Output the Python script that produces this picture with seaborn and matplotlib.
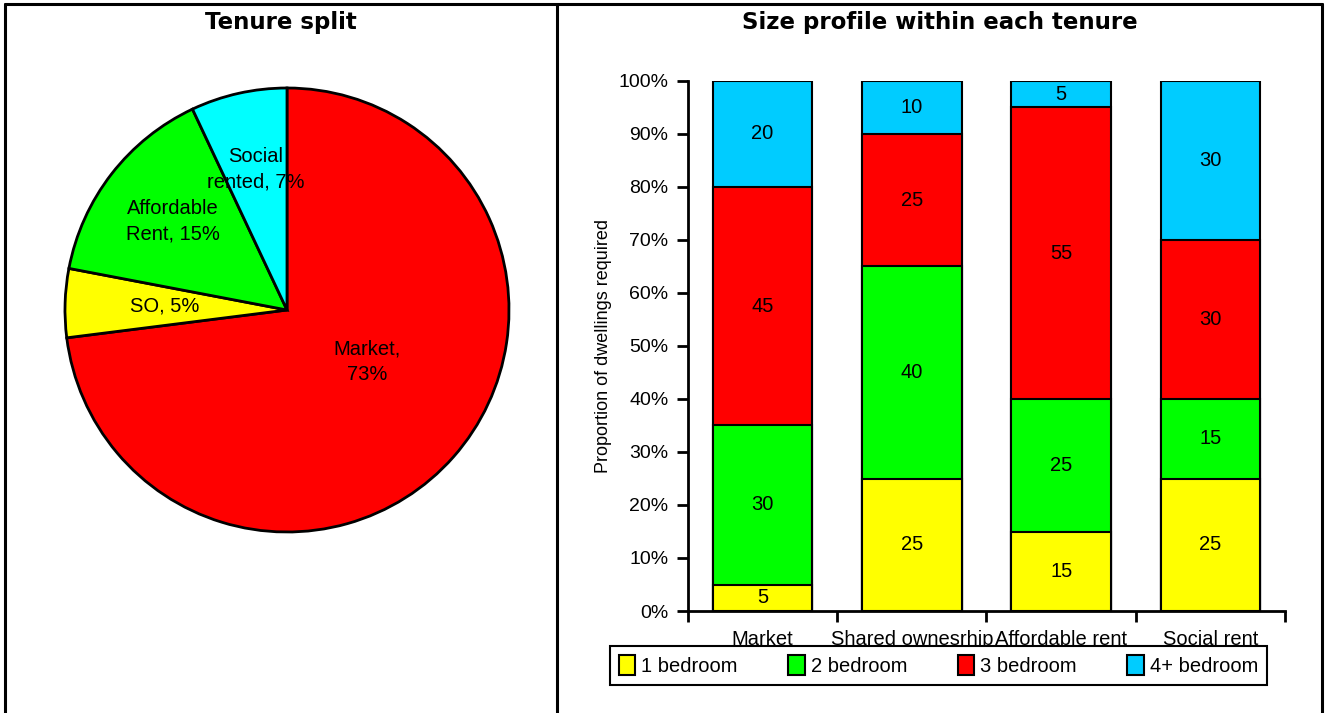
import numpy as np
import seaborn as sns
import matplotlib.pyplot as plt
from matplotlib.lines import Line2D
from matplotlib.patches import Patch

# left panel: tenure split
pie_labels = ["Market,\n", "SO, ", "Affordable\nRent, ", "Social\nrented, "]
pie_share = [73, 5, 15, 7]
pie_colors = ["#FF0000", "#FFFF00", "#00FF00", "#00FFFF"]

# right panel: size profile per tenure
tenures = ["Market", "Shared ownesrhip", "Affordable rent", "Social rent"]
sizes = ["1 bedroom", "2 bedroom", "3 bedroom", "4+ bedroom"]
one_bed = [5, 25, 15, 25]
two_bed = [30, 40, 25, 15]
three_bed = [45, 25, 55, 30]
four_bed = [20, 10, 5, 30]
bar_colors = ["#FFFF00", "#00FF00", "#FF0000", "#00CCFF"]

sns.set_style("ticks")
plt.rcParams["font.family"] = ["Liberation Sans", "DejaVu Sans"]
for key in ["text.color", "axes.labelcolor", "xtick.color", "ytick.color", "axes.edgecolor"]:
    plt.rcParams[key] = "black"

W, H = 1327, 713
fig = plt.figure(figsize=(W / 100, H / 100), dpi=100)


def fx(px):
    return px / W


def fy(py):
    return 1 - py / H


# table-like frame around the two panels
for x0, y0, x1, y1 in [(5, 4, 1322, 4), (5, 4, 5, 713), (1322, 4, 1322, 713), (557, 4, 557, 713)]:
    fig.add_artist(Line2D([fx(x0), fx(x1)], [fy(y0), fy(y1)], color="black", lw=2.2))

fig.text(fx(281), fy(22), "Tenure split", ha="center", va="center",
         fontsize=16.5, fontweight="bold", family="DejaVu Sans")
fig.text(fx(940), fy(22), "Size profile within each tenure", ha="center", va="center",
         fontsize=16.5, fontweight="bold", family="DejaVu Sans")

# ---- pie
ax1 = fig.add_axes([fx(65), fy(532), 444 / W, 444 / H])
wedges, _ = ax1.pie(pie_share, colors=pie_colors, startangle=90, counterclock=False,
                    wedgeprops=dict(edgecolor="black", linewidth=2, clip_on=False))
ax1.set_xlim(-1, 1)
ax1.set_ylim(-1, 1)
label_r = [0.43, 0.55, 0.65, 0.65]
label_shift = [8.7, 0, 0, 0]
for w, lab, v, r, s in zip(wedges, pie_labels, pie_share, label_r, label_shift):
    ang = np.deg2rad((w.theta1 + w.theta2) / 2 + s)
    ax1.text(r * np.cos(ang), r * np.sin(ang), f"{lab}{v}%", ha="center", va="center",
             fontsize=14.5, linespacing=1.45)

# ---- stacked bars (layered cumulative bars)
ax2 = fig.add_axes([fx(688), fy(611), (1285 - 688) / W, (611 - 81) / H])
stack = np.array([one_bed, two_bed, three_bed, four_bed])
cums = np.cumsum(stack, axis=0)
for k in reversed(range(len(sizes))):
    sns.barplot(x=tenures, y=cums[k], order=tenures, color=bar_colors[k], saturation=1,
                width=0.665, edgecolor="black", linewidth=1.5, ax=ax2)
for k in range(len(sizes)):
    for i, v in enumerate(stack[k]):
        ax2.text(i, cums[k][i] - v / 2, str(v), ha="center", va="center", fontsize=14.5)

ax2.set_xlim(-0.5, 3.5)
ax2.set_ylim(0, 100)
ax2.set_yticks(range(0, 101, 10))
ax2.set_yticklabels([f"{t}%" for t in range(0, 101, 10)], fontsize=14)
ax2.set_xticks(range(len(tenures)))
ax2.set_xticklabels(tenures, fontsize=14.5)
ax2.set_xticks(np.arange(-0.5, 4, 1), minor=True)
ax2.tick_params(axis="x", which="major", length=0, pad=14)
ax2.tick_params(axis="x", which="minor", length=8, width=2, direction="out")
ax2.tick_params(axis="y", length=8, width=2, direction="out", pad=6)
ax2.set_ylabel("Proportion of dwellings required", fontsize=13, labelpad=5)
ax2.set_xlabel("")
sns.despine(ax=ax2)
for sp in ["left", "bottom"]:
    ax2.spines[sp].set_linewidth(2)

handles = [Patch(facecolor=c, edgecolor="black", linewidth=1.5) for c in bar_colors]
leg = fig.legend(handles, sizes, loc="center", mode="expand", ncol=4,
                 bbox_to_anchor=(fx(610), fy(688), (1267 - 610) / W, 45 / H),
                 frameon=True, fancybox=False, edgecolor="black", framealpha=1,
                 handlelength=0.8, handleheight=1.1, handletextpad=0.3,
                 fontsize=14.5, borderpad=0.45, borderaxespad=0)
leg.get_frame().set_linewidth(1.5)

fig.savefig("out.png", dpi=100)
